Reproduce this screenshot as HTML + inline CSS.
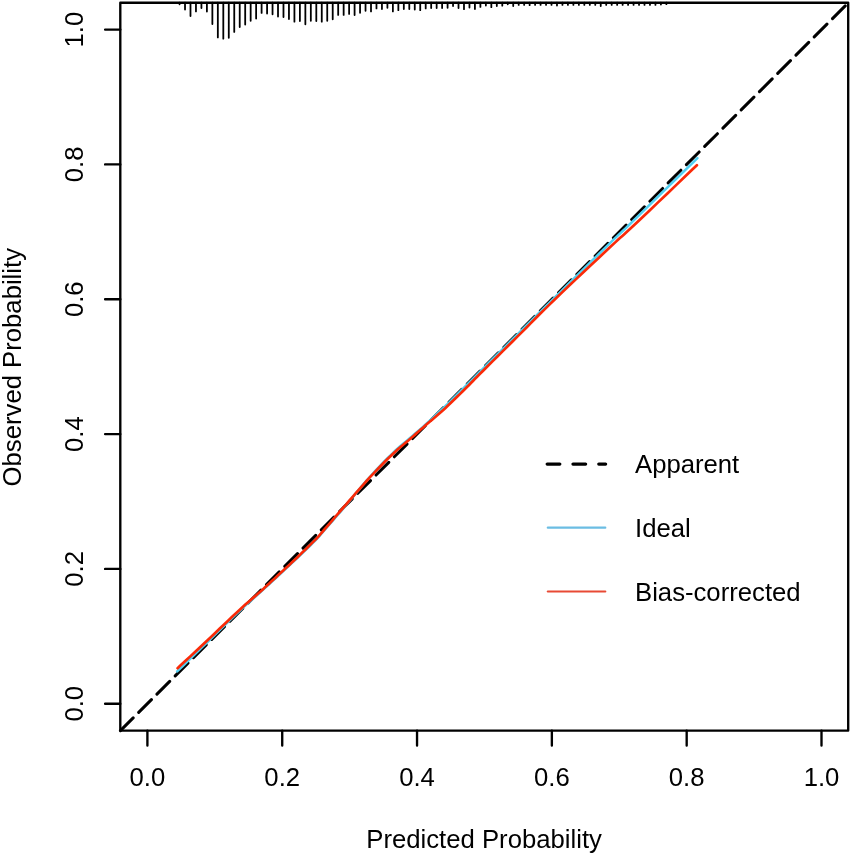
<!DOCTYPE html>
<html><head><meta charset="utf-8"><style>
html,body{margin:0;padding:0;background:#fff;}
svg{display:block;will-change:transform;}
text{font-family:"Liberation Sans",sans-serif;font-size:25.7px;fill:#000;}
</style></head><body>
<svg width="851" height="856" viewBox="0 0 851 856">
<rect width="851" height="856" fill="#fff"/>
<path d="M179.55,2.7 L179.55,4.30 M185.02,2.7 L185.02,9.60 M190.49,2.7 L190.49,16.10 M195.96,2.7 L195.96,11.40 M201.43,2.7 L201.43,8.10 M206.90,2.7 L206.90,11.60 M212.37,2.7 L212.37,24.00 M217.84,2.7 L217.84,37.40 M223.31,2.7 L223.31,38.70 M228.78,2.7 L228.78,37.80 M234.25,2.7 L234.25,31.90 M239.72,2.7 L239.72,27.00 M245.19,2.7 L245.19,24.60 M250.66,2.7 L250.66,20.80 M256.13,2.7 L256.13,18.60 M261.60,2.7 L261.60,12.90 M267.07,2.7 L267.07,13.50 M272.54,2.7 L272.54,14.30 M278.01,2.7 L278.01,16.60 M283.48,2.7 L283.48,17.00 M288.95,2.7 L288.95,19.00 M294.42,2.7 L294.42,21.70 M299.89,2.7 L299.89,21.10 M305.36,2.7 L305.36,24.30 M310.83,2.7 L310.83,20.80 M316.30,2.7 L316.30,21.10 M321.77,2.7 L321.77,21.70 M327.24,2.7 L327.24,20.80 M332.71,2.7 L332.71,19.30 M338.18,2.7 L338.18,14.90 M343.65,2.7 L343.65,14.90 M349.12,2.7 L349.12,13.90 M354.59,2.7 L354.59,15.10 M360.06,2.7 L360.06,12.80 M365.53,2.7 L365.53,10.80 M371.00,2.7 L371.00,11.40 M376.47,2.7 L376.47,8.40 M381.94,2.7 L381.94,9.00 M387.41,2.7 L387.41,7.80 M392.88,2.7 L392.88,11.40 M398.35,2.7 L398.35,10.20 M403.82,2.7 L403.82,9.00 M409.29,2.7 L409.29,9.00 M414.76,2.7 L414.76,9.60 M420.23,2.7 L420.23,10.20 M425.70,2.7 L425.70,8.40 M431.17,2.7 L431.17,8.10 M436.64,2.7 L436.64,8.10 M442.11,2.7 L442.11,8.10 M447.58,2.7 L447.58,7.80 M453.05,2.7 L453.05,6.10 M458.52,2.7 L458.52,8.10 M463.99,2.7 L463.99,9.20 M469.46,2.7 L469.46,7.60 M474.93,2.7 L474.93,9.00 M480.40,2.7 L480.40,6.90 M485.87,2.7 L485.87,5.50 M491.34,2.7 L491.34,7.20 M496.81,2.7 L496.81,6.10 M502.28,2.7 L502.28,5.70 M507.75,2.7 L507.75,4.30 M513.22,2.7 L513.22,6.10 M518.69,2.7 L518.69,4.90 M524.16,2.7 L524.16,4.90 M529.63,2.7 L529.63,5.20 M535.10,2.7 L535.10,4.90 M540.57,2.7 L540.57,4.90 M546.04,2.7 L546.04,4.90 M551.51,2.7 L551.51,4.90 M556.98,2.7 L556.98,5.50 M562.45,2.7 L562.45,4.90 M567.92,2.7 L567.92,4.90 M573.39,2.7 L573.39,4.90 M578.86,2.7 L578.86,4.90 M584.33,2.7 L584.33,4.90 M589.80,2.7 L589.80,4.90 M595.27,2.7 L595.27,4.90 M600.74,2.7 L600.74,6.10 M606.21,2.7 L606.21,4.90 M611.68,2.7 L611.68,4.90 M617.15,2.7 L617.15,4.90 M622.62,2.7 L622.62,4.90 M628.09,2.7 L628.09,4.90 M633.56,2.7 L633.56,4.90 M639.03,2.7 L639.03,4.90 M644.50,2.7 L644.50,4.90 M649.97,2.7 L649.97,4.90 M655.44,2.7 L655.44,4.90 M660.91,2.7 L660.91,4.60 M666.38,2.7 L666.38,4.20" stroke="#000" stroke-width="1.8" stroke-linecap="round" fill="none"/>
<path d="M120.44,730.66 L848.2,2.9" stroke="#000" stroke-width="3" stroke-dasharray="18 7.82" stroke-linecap="round" fill="none"/>
<path d="M177.20,671.40 L179.48,669.19 L182.48,666.28 L186.05,662.82 L190.04,658.95 L194.28,654.83 L198.63,650.62 L202.92,646.46 L207.00,642.50 L211.06,638.55 L215.33,634.39 L219.71,630.11 L224.11,625.82 L228.44,621.61 L232.59,617.59 L236.48,613.85 L240.00,610.50 L243.02,607.67 L245.57,605.34 L247.81,603.33 L249.91,601.49 L252.01,599.65 L254.29,597.64 L256.90,595.31 L260.00,592.50 L263.71,589.10 L267.93,585.24 L272.49,581.06 L277.22,576.72 L281.95,572.36 L286.52,568.14 L290.76,564.20 L294.50,560.70 L297.81,557.58 L300.88,554.66 L303.72,551.94 L306.34,549.39 L308.77,547.02 L311.01,544.81 L313.08,542.74 L315.00,540.80 L316.61,539.15 L317.82,537.86 L318.78,536.81 L319.59,535.88 L320.40,534.92 L321.32,533.82 L322.48,532.46 L324.00,530.70 L325.84,528.60 L327.86,526.29 L330.04,523.80 L332.38,521.13 L334.85,518.28 L337.45,515.27 L340.17,512.11 L343.00,508.80 L346.02,505.22 L349.28,501.30 L352.71,497.15 L356.25,492.88 L359.82,488.59 L363.34,484.39 L366.76,480.39 L370.00,476.70 L373.11,473.26 L376.17,469.94 L379.18,466.74 L382.12,463.67 L384.99,460.74 L387.77,457.94 L390.44,455.30 L393.00,452.80 L395.43,450.50 L397.72,448.42 L399.90,446.50 L402.00,444.72 L404.04,443.02 L406.03,441.36 L408.01,439.70 L410.00,438.00 L411.94,436.33 L413.77,434.75 L415.55,433.23 L417.31,431.73 L419.10,430.20 L420.95,428.59 L422.90,426.88 L425.00,425.00 L427.29,422.93 L429.77,420.67 L432.35,418.30 L435.00,415.86 L437.65,413.41 L440.23,410.99 L442.71,408.67 L445.00,406.50 L446.81,404.78 L448.05,403.60 L449.01,402.66 L450.00,401.69 L451.30,400.39 L453.20,398.48 L456.01,395.68 L460.00,391.70 L465.52,386.20 L472.42,379.30 L480.30,371.43 L488.75,362.99 L497.35,354.39 L505.70,346.05 L513.39,338.39 L520.00,331.80 L525.43,326.40 L530.02,321.85 L534.03,317.87 L537.75,314.20 L541.44,310.56 L545.36,306.70 L549.79,302.33 L555.00,297.20 L561.25,291.04 L568.39,284.00 L576.09,276.41 L584.00,268.62 L591.79,260.95 L599.11,253.75 L605.63,247.36 L611.00,242.10 L614.81,238.39 L617.22,236.09 L618.71,234.70 L619.79,233.72 L620.96,232.66 L622.71,231.01 L625.56,228.29 L630.00,224.00 L636.57,217.61 L645.03,209.36 L654.69,199.93 L664.89,189.97 L674.93,180.15 L684.15,171.14 L691.87,163.60 L697.40,158.20" stroke="#52d0f2" stroke-width="2.5" fill="none" stroke-linejoin="round" stroke-linecap="round"/>
<path d="M177.60,668.20 L179.85,666.10 L182.81,663.34 L186.34,660.05 L190.27,656.38 L194.46,652.46 L198.74,648.45 L202.98,644.48 L207.00,640.70 L211.00,636.92 L215.19,632.93 L219.49,628.83 L223.81,624.71 L228.06,620.66 L232.15,616.78 L235.99,613.16 L239.50,609.90 L242.69,607.00 L245.64,604.36 L248.40,601.94 L250.97,599.72 L253.39,597.64 L255.68,595.67 L257.88,593.77 L260.00,591.90 L261.93,590.18 L263.58,588.69 L265.05,587.35 L266.44,586.07 L267.83,584.79 L269.33,583.40 L271.02,581.83 L273.00,580.00 L275.29,577.89 L277.80,575.57 L280.48,573.09 L283.28,570.50 L286.14,567.85 L289.00,565.18 L291.80,562.55 L294.50,560.00 L297.19,557.44 L299.96,554.79 L302.77,552.10 L305.53,549.43 L308.20,546.84 L310.71,544.38 L312.99,542.12 L315.00,540.10 L316.61,538.45 L317.82,537.16 L318.78,536.12 L319.59,535.18 L320.40,534.23 L321.32,533.13 L322.48,531.76 L324.00,530.00 L325.84,527.88 L327.86,525.54 L330.04,523.01 L332.38,520.29 L334.85,517.42 L337.45,514.40 L340.17,511.25 L343.00,508.00 L346.02,504.52 L349.28,500.75 L352.71,496.77 L356.25,492.69 L359.82,488.60 L363.34,484.59 L366.76,480.76 L370.00,477.20 L373.11,473.85 L376.17,470.61 L379.18,467.47 L382.12,464.44 L384.99,461.55 L387.77,458.79 L390.44,456.17 L393.00,453.70 L395.43,451.43 L397.72,449.37 L399.90,447.48 L402.00,445.71 L404.04,444.02 L406.03,442.36 L408.01,440.71 L410.00,439.00 L411.94,437.31 L413.77,435.69 L415.55,434.12 L417.31,432.57 L419.10,430.99 L420.95,429.36 L422.90,427.64 L425.00,425.80 L427.26,423.84 L429.65,421.79 L432.13,419.67 L434.69,417.49 L437.28,415.26 L439.88,412.99 L442.47,410.70 L445.00,408.40 L447.53,406.04 L450.12,403.59 L452.72,401.09 L455.31,398.56 L457.87,396.06 L460.35,393.60 L462.74,391.24 L465.00,389.00 L466.96,387.05 L468.57,385.43 L470.00,383.97 L471.40,382.52 L472.94,380.94 L474.78,379.06 L477.08,376.73 L480.00,373.80 L483.62,370.19 L487.82,366.01 L492.45,361.39 L497.40,356.48 L502.52,351.39 L507.68,346.26 L512.76,341.22 L517.60,336.40 L522.16,331.85 L526.53,327.45 L530.82,323.13 L535.15,318.77 L539.62,314.29 L544.35,309.60 L549.44,304.60 L555.00,299.20 L561.33,293.12 L568.45,286.34 L576.07,279.13 L583.87,271.77 L591.56,264.53 L598.85,257.69 L605.43,251.52 L611.00,246.30 L615.23,242.37 L618.25,239.61 L620.48,237.61 L622.35,235.97 L624.27,234.27 L626.65,232.12 L629.92,229.10 L634.50,224.80 L640.87,218.77 L648.83,211.18 L657.79,202.62 L667.17,193.66 L676.36,184.86 L684.78,176.80 L691.82,170.06 L696.90,165.20" stroke="#fa2a08" stroke-width="2.7" fill="none" stroke-linejoin="round" stroke-linecap="round"/>
<path d="M120.3,2.7 L848.2,2.7 L848.2,730.6 L120.3,730.6 Z" stroke="#000" stroke-width="2.35" fill="none" stroke-linejoin="round"/>
<path d="M147.40,730.6 L147.40,745.6 M282.22,730.6 L282.22,745.6 M417.04,730.6 L417.04,745.6 M551.86,730.6 L551.86,745.6 M686.68,730.6 L686.68,745.6 M821.50,730.6 L821.50,745.6 M120.3,703.70 L105.1,703.70 M120.3,568.88 L105.1,568.88 M120.3,434.06 L105.1,434.06 M120.3,299.24 L105.1,299.24 M120.3,164.42 L105.1,164.42 M120.3,29.60 L105.1,29.60 " stroke="#000" stroke-width="2.35" fill="none" stroke-linecap="round"/>
<text x="147.40" y="786.2" text-anchor="middle">0.0</text><text x="282.22" y="786.2" text-anchor="middle">0.2</text><text x="417.04" y="786.2" text-anchor="middle">0.4</text><text x="551.86" y="786.2" text-anchor="middle">0.6</text><text x="686.68" y="786.2" text-anchor="middle">0.8</text><text x="821.50" y="786.2" text-anchor="middle">1.0</text>
<text transform="translate(83.4,703.70) rotate(-90)" text-anchor="middle">0.0</text><text transform="translate(83.4,568.88) rotate(-90)" text-anchor="middle">0.2</text><text transform="translate(83.4,434.06) rotate(-90)" text-anchor="middle">0.4</text><text transform="translate(83.4,299.24) rotate(-90)" text-anchor="middle">0.6</text><text transform="translate(83.4,164.42) rotate(-90)" text-anchor="middle">0.8</text><text transform="translate(83.4,29.60) rotate(-90)" text-anchor="middle">1.0</text>
<text x="484.1" y="848" text-anchor="middle">Predicted Probability</text>
<text transform="translate(20.7,367.2) rotate(-90)" text-anchor="middle">Observed Probability</text>
<path d="M547.2,464.1 L605.6,464.1" stroke="#000" stroke-width="3.3" stroke-dasharray="12.6 13.2" stroke-linecap="round" fill="none"/>
<path d="M547.8,527.7 L605.3,527.7" stroke="#6bbde3" stroke-width="2.2" stroke-linecap="round" fill="none"/>
<path d="M547.8,591.5 L605.3,591.5" stroke="#e84a35" stroke-width="2.2" stroke-linecap="round" fill="none"/>
<text x="635" y="472.9">Apparent</text>
<text x="635" y="536.6">Ideal</text>
<text x="635" y="600.6">Bias-corrected</text>
</svg>
</body></html>
